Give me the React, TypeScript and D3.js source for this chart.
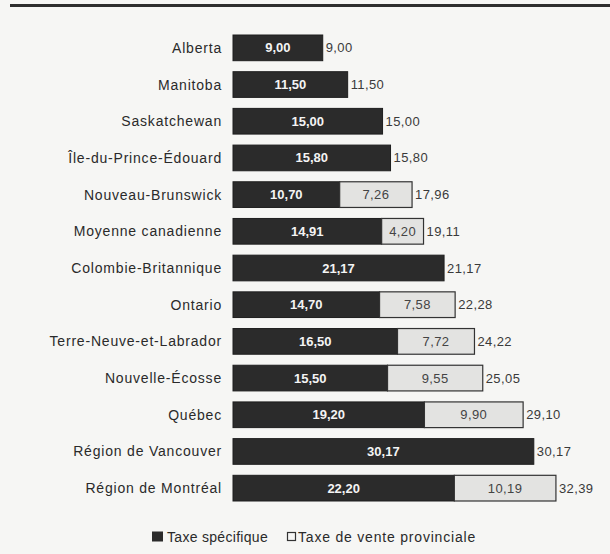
import React from "react";
import * as d3 from "d3";

const categories = [
  "Alberta",
  "Manitoba",
  "Saskatchewan",
  "Île-du-Prince-Édouard",
  "Nouveau-Brunswick",
  "Moyenne canadienne",
  "Colombie-Britannique",
  "Ontario",
  "Terre-Neuve-et-Labrador",
  "Nouvelle-Écosse",
  "Québec",
  "Région de Vancouver",
  "Région de Montréal",
];
const taxeSpecifique = [9.0, 11.5, 15.0, 15.8, 10.7, 14.91, 21.17, 14.7, 16.5, 15.5, 19.2, 30.17, 22.2];
const taxeVente = [0, 0, 0, 0, 7.26, 4.2, 0, 7.58, 7.72, 9.55, 9.9, 0, 10.19];
const totals = [9.0, 11.5, 15.0, 15.8, 17.96, 19.11, 21.17, 22.28, 24.22, 25.05, 29.1, 30.17, 32.39];
const legendLabels = ["Taxe spécifique", "Taxe de vente provinciale"];

const W = 610;
const H = 554;
const fmt = (v: number) => v.toFixed(2).replace(".", ",");
const FONT = "'Liberation Sans', Arial, Helvetica, sans-serif";

export default function App() {
  const x = d3.scaleLinear().domain([0, 35]).range([233, 233 + 35 * 9.97]);
  const y = d3
    .scaleBand<string>()
    .domain(categories)
    .range([24, 512])
    .paddingInner(0.3)
    .paddingOuter(0.3);
  const bh = y.bandwidth();

  return (
    <svg
      width={W}
      height={H}
      style={{ position: "absolute", left: 0, top: 0, background: "#f6f6f4" }}
      fontFamily={FONT}
    >
      <rect x={0} y={0} width={W} height={H} fill="#f6f6f4" />
      <line x1={10} x2={W} y1={5.5} y2={5.5} stroke="#2e2e2e" strokeWidth={3} />
      {categories.map((c, i) => {
        const y0 = y(c)!;
        const cy = y0 + bh / 2;
        const s = taxeSpecifique[i];
        const v = taxeVente[i];
        const xs0 = x(0);
        const xs1 = x(s);
        const xv1 = x(s + v);
        return (
          <g key={c}>
            <text
              x={222}
              y={cy}
              textAnchor="end"
              dominantBaseline="central"
              fontSize={14}
              letterSpacing={0.8}
              fill="#2a2a2a"
            >
              {c}
            </text>
            <rect x={xs0} y={y0} width={xs1 - xs0} height={bh} fill="#2b2b2b" stroke="#1e1e1e" strokeWidth={1} />
            <text
              x={(xs0 + xs1) / 2}
              y={cy}
              textAnchor="middle"
              dominantBaseline="central"
              fontSize={13}
              fontWeight="bold"
              fill="#f4f4f4"
            >
              {fmt(s)}
            </text>
            {v > 0 && (
              <>
                <rect x={xs1} y={y0} width={xv1 - xs1} height={bh} fill="#e3e3e1" stroke="#333" strokeWidth={1.2} />
                <text
                  x={(xs1 + xv1) / 2}
                  y={cy}
                  textAnchor="middle"
                  dominantBaseline="central"
                  fontSize={13}
                  letterSpacing={0.4}
                  fill="#444"
                >
                  {fmt(v)}
                </text>
              </>
            )}
            <text
              x={x(totals[i]) + 3}
              y={cy}
              dominantBaseline="central"
              fontSize={13}
              letterSpacing={0.4}
              fill="#3a3a3a"
            >
              {fmt(totals[i])}
            </text>
          </g>
        );
      })}
      <g transform="translate(0,537)">
        <rect x={152} y={-5.5} width={11} height={10} fill="#2b2b2b" />
        <text x={167} y={0} dominantBaseline="central" fontSize={14} letterSpacing={0.3} fill="#2a2a2a">
          {legendLabels[0]}
        </text>
        <rect x={287.5} y={-4.5} width={8} height={8} fill="#f6f6f4" stroke="#333" strokeWidth={1.2} />
        <text x={298} y={0} dominantBaseline="central" fontSize={14} letterSpacing={0.8} fill="#2a2a2a">
          {legendLabels[1]}
        </text>
      </g>
    </svg>
  );
}
